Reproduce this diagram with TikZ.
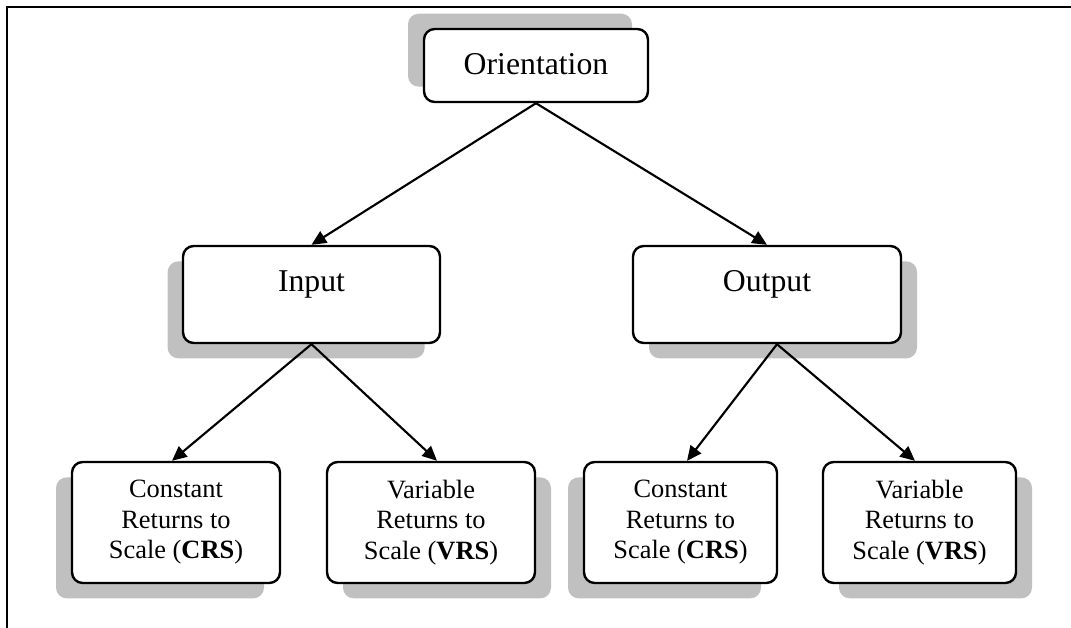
\documentclass[tikz,border=0pt]{standalone}
\usepackage{fontspec}
\setmainfont{Liberation Serif}
\usetikzlibrary{arrows.meta,shadows}
\definecolor{shadowgray}{RGB}{192,192,192}
\begin{document}
\begin{tikzpicture}[x=0.75pt,y=-0.75pt,
  box/.style={draw=black,line width=1.8pt,rounded corners=8pt,fill=white,inner sep=0pt},
  sh/.style 2 args={general shadow={fill=shadowgray,shadow xshift=#1,shadow yshift=#2}},
  arr/.style={line width=1.6pt,-{Triangle[length=11pt,width=10pt]}},
  big/.style={font=\fontsize{23.8}{28}\selectfont,text height=16pt},
  small/.style={font=\fontsize{19.8}{22.9}\selectfont,align=center}]
  \useasboundingbox (0,0) rectangle (1071,628);

  % frame (top and left edges)
  \coordinate (ftr) at (1071,7);
  \coordinate (ftl) at (7,7);
  \coordinate (fbl) at (7,628);
  \draw[line width=1.9pt] (ftr) -- (ftl) -- (fbl);

  % top level
  \node[box,big,sh={-12pt}{11.5pt},minimum width=168pt,minimum height=54.75pt,text depth=3.2pt]
    (ori) at (536,65.5) {Orientation};

  % second level
  \node[box,big,sh={-11.5pt}{-11.5pt},minimum width=192.75pt,minimum height=72.75pt,text depth=20.2pt]
    (in) at (311.5,294.5) {Input};
  \node[box,big,sh={12pt}{-11.5pt},minimum width=201pt,minimum height=72.75pt,text depth=20.2pt]
    (out) at (767,294.5) {Output};

  % third level
  \node[box,small,sh={-12pt}{-11.5pt},minimum width=156pt,minimum height=90.75pt]
    (crs1) at (176,522.5) {Constant\\Returns to\\Scale (\textbf{CRS})};
  \node[box,small,sh={12pt}{-11.5pt},minimum width=156pt,minimum height=90.75pt]
    (vrs1) at (431,522.5) {Variable\\Returns to\\Scale (\textbf{VRS})};
  \node[box,small,sh={-12pt}{-11.5pt},minimum width=144.75pt,minimum height=90.75pt]
    (crs2) at (680.5,522.5) {Constant\\Returns to\\Scale (\textbf{CRS})};
  \node[box,small,sh={12pt}{-11.5pt},minimum width=144.75pt,minimum height=90.75pt]
    (vrs2) at (919.5,522.5) {Variable\\Returns to\\Scale (\textbf{VRS})};

  % connectors
  \draw[arr] (ori.south) -- (in.north);
  \draw[arr] (ori.south) -- (out.north);
  \draw[arr] (in.south) -- ([xshift=-3pt]crs1.north);
  \draw[arr] (in.south) -- ([xshift=4.5pt]vrs1.north);
  \draw[arr] ([xshift=7.5pt]out.south) -- ([xshift=4.9pt]crs2.north);
  \draw[arr] ([xshift=7.5pt]out.south) -- ([xshift=-3.4pt]vrs2.north);
\end{tikzpicture}
\end{document}
